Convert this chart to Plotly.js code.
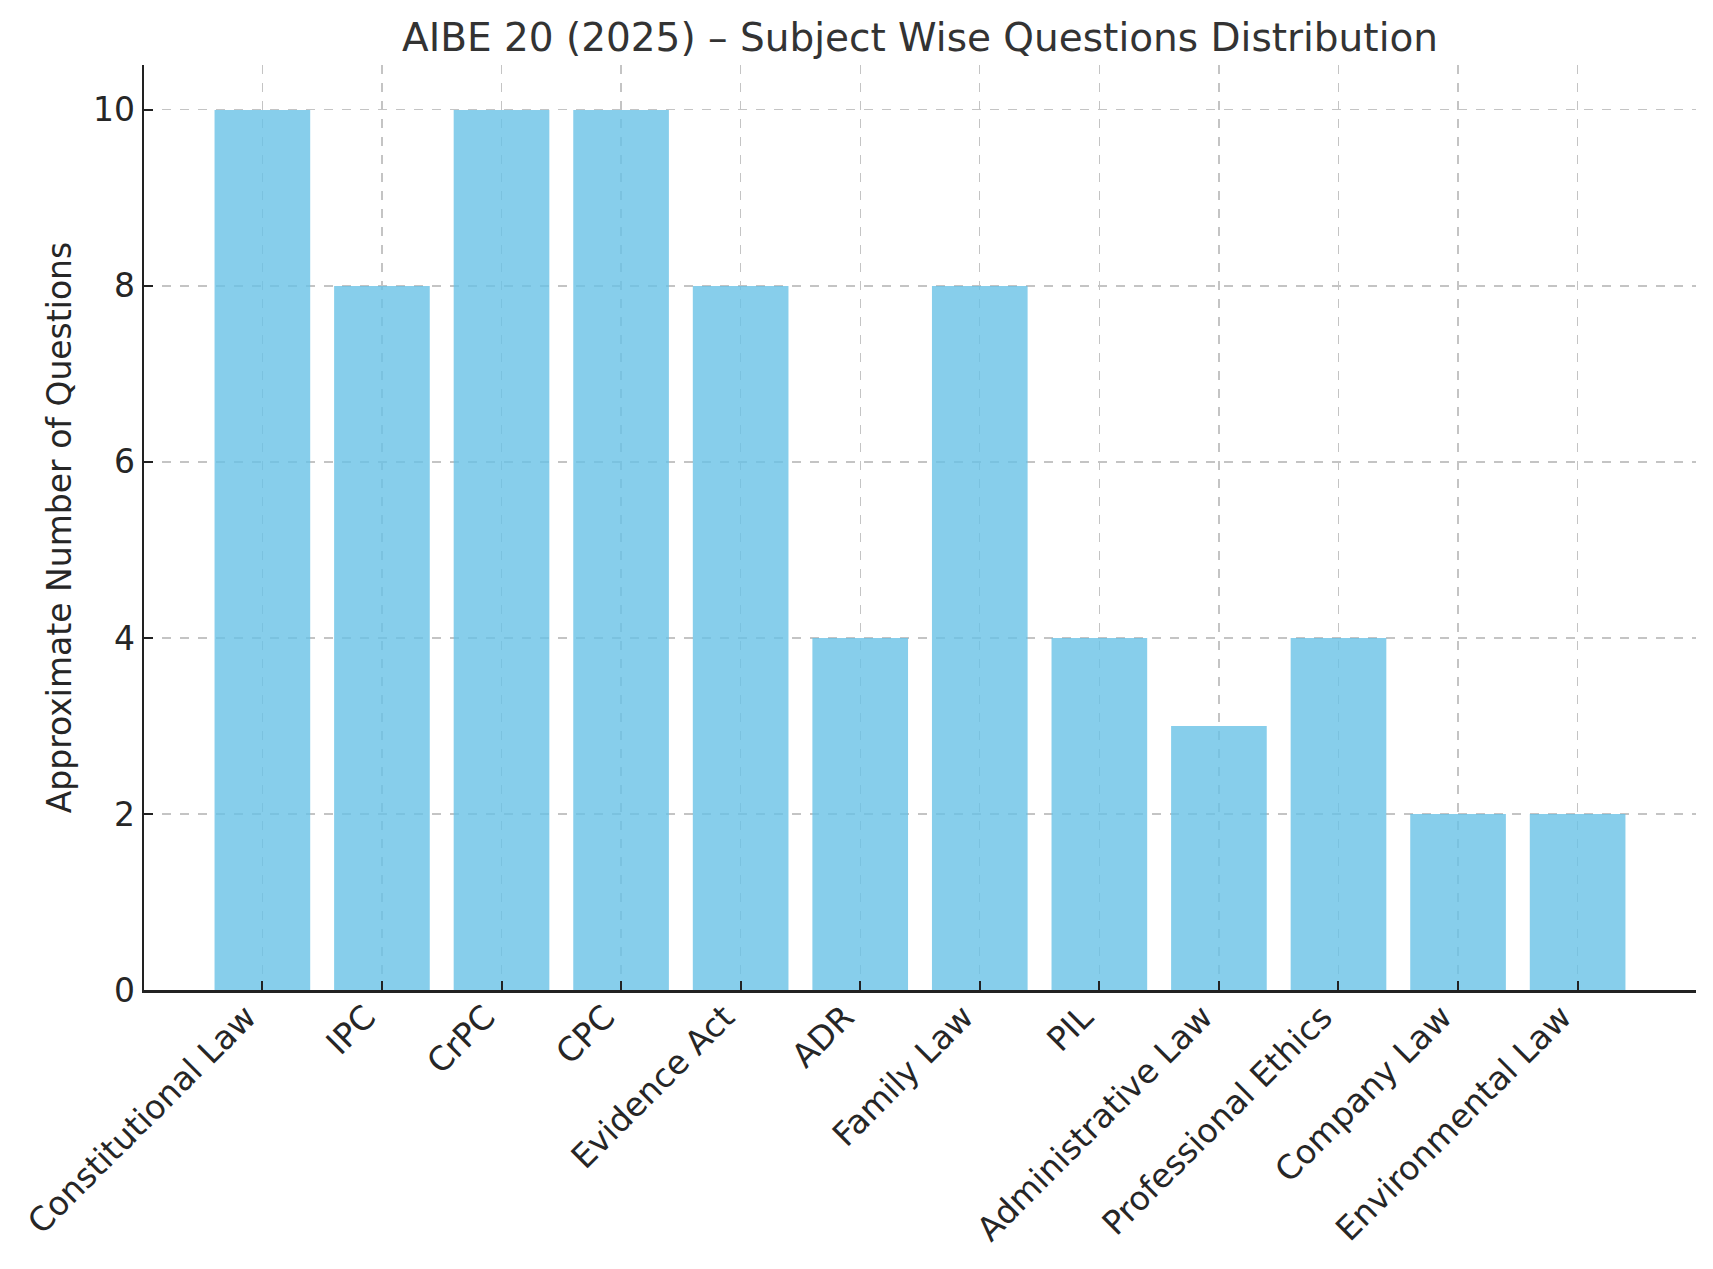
<!DOCTYPE html>
<html>
<head>
<meta charset="utf-8">
<script src="https://cdn.plot.ly/plotly-3.0.1.min.js"></script>
<style>html,body{margin:0;padding:0;background:#fff;}#chart{width:1713px;height:1269px;}</style>
</head>
<body>
<div id="chart"></div>
<script>
const categories = ["Constitutional Law", "IPC", "CrPC", "CPC", "Evidence Act", "ADR", "Family Law", "PIL", "Administrative Law", "Professional Ethics", "Company Law", "Environmental Law"];
const questionCounts = [10, 8, 10, 10, 8, 4, 8, 4, 3, 4, 2, 2];
const yTickValues = [0, 2, 4, 6, 8, 10];
const chartTitle = "AIBE 20 (2025) – Subject Wise Questions Distribution";
const yAxisTitle = "Approximate Number of Questions";

const font = "DejaVu Sans, Verdana, sans-serif";
const textColor = "#262626";

const trace = {
  type: "bar",
  x: categories,
  y: questionCounts,
  width: 0.8,
  marker: { color: "rgba(105,194,230,0.8)", line: { width: 0 } },
  hoverinfo: "x+y"
};

const layout = {
  width: 1713,
  height: 1269,
  paper_bgcolor: "#ffffff",
  plot_bgcolor: "#ffffff",
  margin: { l: 144, r: 17, t: 65, b: 279 },
  showlegend: false,
  bargap: 0.2,
  font: { family: font, color: textColor, size: 33 },
  title: {
    text: chartTitle,
    font: { family: font, size: 39, color: "#333333" },
    x: 0.5, xref: "paper", xanchor: "center",
    y: 1 - 37 / 1269, yref: "container", yanchor: "middle"
  },
  xaxis: {
    type: "category",
    range: [-0.99, 11.99],
    tickangle: -45,
    tickfont: { family: font, size: 33, color: textColor },
    ticks: "inside",
    ticklen: 9,
    tickwidth: 2,
    tickcolor: "#222222",
    ticklabelshift: -16,
    ticklabelstandoff: -8,
    showline: true,
    linecolor: "#222222",
    linewidth: 2.5,
    showgrid: true,
    gridcolor: "#c4c4c4",
    gridwidth: 1.2,
    griddash: "dash",
    zeroline: false,
    automargin: false
  },
  yaxis: {
    range: [0, 10.51],
    tickvals: yTickValues,
    ticktext: yTickValues.map(String),
    tickfont: { family: font, size: 33, color: textColor },
    ticks: "inside",
    ticklen: 9,
    tickwidth: 2,
    tickcolor: "#222222",
    showline: true,
    linecolor: "#222222",
    linewidth: 2.5,
    showgrid: true,
    gridcolor: "#c4c4c4",
    gridwidth: 1.2,
    griddash: "dash",
    zeroline: false,
    automargin: false,
    title: {
      text: yAxisTitle,
      font: { family: font, size: 33, color: textColor },
      standoff: 12
    }
  }
};

Plotly.newPlot("chart", [trace], layout, { displayModeBar: false, staticPlot: true });
</script>
</body>
</html>
